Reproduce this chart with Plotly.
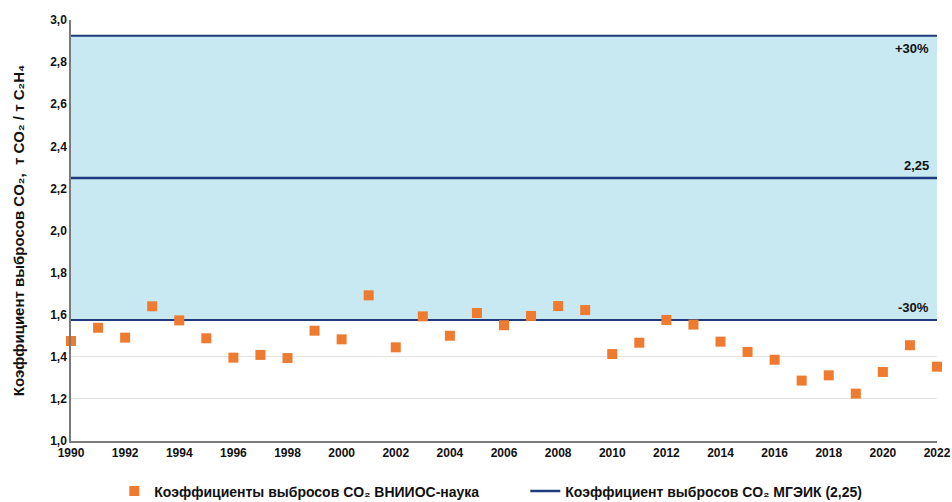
import plotly.graph_objects as go

years = list(range(1990, 2023))
vniios = [1.475, 1.538, 1.491, 1.640, 1.573, 1.488, 1.396, 1.409, 1.394, 1.524,
          1.483, 1.692, 1.445, 1.592, 1.500, 1.608, 1.550, 1.594, 1.641, 1.622,
          1.413, 1.467, 1.575, 1.553, 1.472, 1.423, 1.386, 1.287, 1.312, 1.225,
          1.328, 1.455, 1.353]
ipcc_value = 2.25
band_pct = 0.30
band_labels = ["+30%", "2,25", "-30%"]
x_ticks = list(range(1990, 2023, 2))
y_ticks = [1.0, 1.2, 1.4, 1.6, 1.8, 2.0, 2.2, 2.4, 2.6, 2.8, 3.0]

upper = ipcc_value * (1 + band_pct)
lower = ipcc_value * (1 - band_pct)
navy = "#1f3b7d"
bold_font = dict(size=12, family="Arial, Liberation Sans", color="#111111", weight="bold")

fig = go.Figure()
fig.add_trace(go.Scatter(
    x=years, y=vniios, mode="markers", cliponaxis=False,
    marker=dict(symbol="square", size=10, color="#ee7b30"),
    name="Коэффициенты выбросов CO₂ ВНИИОС-наука"))
fig.add_trace(go.Scatter(
    x=[years[0], years[-1]], y=[ipcc_value, ipcc_value], mode="lines",
    line=dict(color=navy, width=2.5),
    name="Коэффициент выбросов CO₂ МГЭИК (2,25)"))

fig.add_shape(type="rect", x0=years[0], x1=years[-1], y0=lower, y1=upper,
              xref="x", yref="y", fillcolor="#c8e8f2", line=dict(width=0), layer="between")
for yv in (upper, lower):
    fig.add_shape(type="line", x0=years[0], x1=years[-1], y0=yv, y1=yv,
                  xref="x", yref="y", line=dict(color=navy, width=2), layer="between")

label_anchor = ["top", "bottom", "bottom"]
label_shift = [-3, 3, 3]
for lab, yv, anc, sh in zip(band_labels, [upper, ipcc_value, lower], label_anchor, label_shift):
    fig.add_annotation(x=years[-1], y=yv, text=lab, showarrow=False,
                       xanchor="right", yanchor=anc, xshift=-6, yshift=sh,
                       font=dict(size=13, color="#111111", family="Arial, Liberation Sans", weight="bold"))

fig.update_layout(
    width=952, height=502,
    margin=dict(l=71, r=15, t=20, b=61, autoexpand=False),
    plot_bgcolor="white", paper_bgcolor="white",
    separators=", ",
    font=dict(family="Arial, Liberation Sans", color="#111111"),
    showlegend=True,
    legend=dict(orientation="h", x=0.05, xanchor="left", y=-0.082, yanchor="top",
                font=dict(size=14, family="Liberation Sans Narrow, Arial Narrow, Liberation Sans",
                          color="#111111", weight="bold"),
                itemwidth=30, tracegroupgap=0, entrywidth=366),
)
fig.update_xaxes(range=[1990, 2022], tickvals=x_ticks, showgrid=False,
                 showline=True, linecolor="#7a7a7a", linewidth=1.5,
                 ticks="", tickfont=bold_font, zeroline=False)
fig.update_yaxes(range=[1.0, 3.0], tickvals=y_ticks, tickformat=".1f",
                 showgrid=True, gridcolor="#e4e4e4", gridwidth=1,
                 showline=True, linecolor="#7a7a7a", linewidth=1.5, ticks="",
                 tickfont=bold_font,
                 title=dict(text="<b>Коэффициент выбросов CO₂,  т CO₂ / т C₂H₄</b>",
                            font=dict(size=15), standoff=22),
                 zeroline=False)

fig.write_html("out.html", config={"displayModeBar": False},
               post_script="document.body.style.margin='0';document.body.style.padding='0';document.body.style.overflow='hidden';")
